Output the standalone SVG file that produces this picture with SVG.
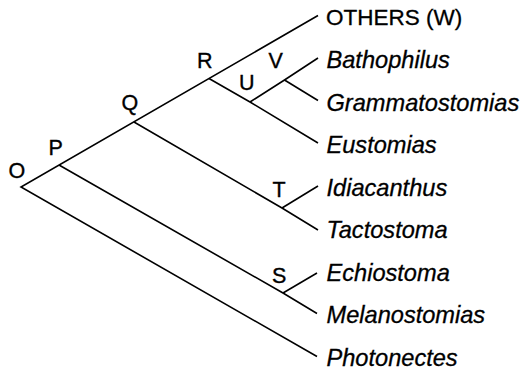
<svg xmlns="http://www.w3.org/2000/svg" width="523" height="372" viewBox="0 0 523 372">
<style>
  .edge { stroke: #000; stroke-width: 1.6; fill: none; stroke-linecap: butt; stroke-linejoin: miter; }
  .nl { font-family: "Liberation Sans", Arial, sans-serif; font-size: 21.5px; fill: #000; stroke: #000; stroke-width: 0.35; }
  .tip { font-family: "Liberation Sans", Arial, sans-serif; font-size: 23.6px; fill: #000; font-style: italic; stroke: #000; stroke-width: 0.3; }
  .tipu { font-family: "Liberation Sans", Arial, sans-serif; font-size: 22.5px; fill: #000; stroke: #000; stroke-width: 0.3; }
</style>
<rect width="523" height="372" fill="#fff"/>
<g id="connectors">
  <path class="edge" d="M318 15.5 L21 187 L317 356.5"/>
  <path class="edge" d="M59 165 L283 293 L317 313.5"/>
  <path class="edge" d="M283 293 L317 273"/>
  <path class="edge" d="M134 122 L282 208 L318 230"/>
  <path class="edge" d="M282 208 L318 186"/>
  <path class="edge" d="M209 78.5 L250 102 L318 143"/>
  <path class="edge" d="M250 102 L284.5 80 L318 58"/>
  <path class="edge" d="M284.5 80 L318 100.5"/>
</g>
<g id="node-O"><text class="nl" x="8.5" y="178">O</text></g>
<g id="node-P"><text class="nl" x="48.5" y="155">P</text></g>
<g id="node-Q"><text class="nl" x="121.5" y="110">Q</text></g>
<g id="node-R"><text class="nl" x="197" y="68">R</text></g>
<g id="node-U"><text class="nl" x="239" y="90">U</text></g>
<g id="node-V"><text class="nl" x="268.5" y="68">V</text></g>
<g id="node-T"><text class="nl" x="272.5" y="197">T</text></g>
<g id="node-S"><text class="nl" x="272" y="283">S</text></g>
<g id="tip-others"><text class="tipu" x="326" y="25">OTHERS (W)</text></g>
<g id="tip-bathophilus"><text class="tip" x="326.5" y="68">Bathophilus</text></g>
<g id="tip-grammatostomias"><text class="tip" x="326.5" y="110.5">Grammatostomias</text></g>
<g id="tip-eustomias"><text class="tip" x="326.5" y="153">Eustomias</text></g>
<g id="tip-idiacanthus"><text class="tip" x="326.5" y="195.5">Idiacanthus</text></g>
<g id="tip-tactostoma"><text class="tip" x="326.5" y="238">Tactostoma</text></g>
<g id="tip-echiostoma"><text class="tip" x="326.5" y="280.5">Echiostoma</text></g>
<g id="tip-melanostomias"><text class="tip" x="326.5" y="323">Melanostomias</text></g>
<g id="tip-photonectes"><text class="tip" x="326.5" y="365.5">Photonectes</text></g>
</svg>
